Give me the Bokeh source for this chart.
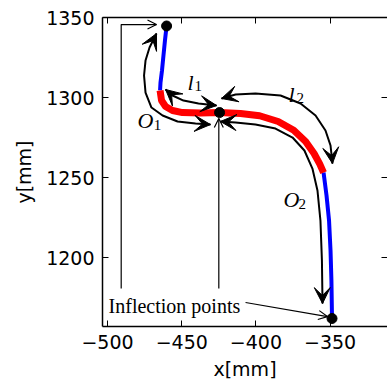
from bokeh.plotting import figure
from bokeh.models import Range1d, LinearAxis, FixedTicker, Arrow, VeeHead, OpenHead, Label
from bokeh.embed import file_html
from bokeh.resources import INLINE

# ---- data (mm) ----
blue1_x = [-460.2, -461.3, -462.3, -463.3, -464.3, -464.6]
blue1_y = [1344.7, 1335.6, 1326.3, 1316.9, 1309.4, 1304.4]
red_x = [-464.6, -463.6, -460.9, -456.2, -449.5, -437.3, -424.5, -410.4, -397.5, -385.0,
         -374.5, -366.5, -360.8, -357.0, -354.4]
red_y = [1304.4, 1298.1, 1294.4, 1291.9, 1290.6, 1290.3, 1290.6, 1290.0, 1288.6, 1285.0,
         1279.5, 1272.5, 1265.0, 1258.5, 1253.1]
blue2_x = [-354.4, -352.4, -350.7, -349.7, -349.1, -348.7]
blue2_y = [1253.1, 1238.8, 1223.1, 1204.4, 1185.6, 1161.9]
points_x = [-460.2, -424.5, -348.7]
points_y = [1344.7, 1290.6, 1161.9]

# annotation arcs (mm)
o1_x = [-430.6, -440.7, -452.8, -462.9, -470.4, -474.4, -475.4, -474.4, -471.7, -467.0]
o1_y = [1283.1, 1283.75, 1285.0, 1288.75, 1293.75, 1303.1, 1313.75, 1323.1, 1331.25, 1340.0]
l1_x = [-460.9, -456.2, -448.8, -438.7, -426.5]
l1_y = [1305.0, 1301.25, 1298.1, 1296.25, 1295.0]
l2_x = [-423.2, -413.7, -400.3, -383.4, -369.9, -359.8, -353.1, -349.7, -348.4]
l2_y = [1299.4, 1301.9, 1302.5, 1301.25, 1296.25, 1288.75, 1279.4, 1270.0, 1258.75]
o2_x = [-423.9, -413.7, -400.3, -386.8, -375.3, -367.3, -361.9, -358.5, -356.5, -355.5, -355.1]
o2_y = [1285.0, 1284.4, 1283.1, 1280.6, 1275.0, 1266.9, 1255.6, 1241.9, 1223.1, 1198.1, 1171.25]

x_ticks = [-500, -450, -400, -350]
y_ticks = [1200, 1250, 1300, 1350]

p = figure(width=387, height=385, output_backend="svg", toolbar_location=None,
           x_range=Range1d(-503.4, -311.3), y_range=Range1d(1156.9, 1350),
           min_border_left=102, min_border_right=0, min_border_top=17, min_border_bottom=59,
           x_axis_label="x[mm]", y_axis_label="y[mm]")
p.outline_line_color = None
p.xgrid.visible = False
p.ygrid.visible = False
p.background_fill_color = "white"

def style_axis(ax, ticks, labels=True):
    ax.ticker = FixedTicker(ticks=ticks)
    ax.major_tick_in = 6
    ax.major_tick_out = 0
    ax.minor_tick_in = 0
    ax.minor_tick_out = 0
    ax.axis_line_width = 1.5
    ax.major_tick_line_width = 1
    ax.major_tick_line_color = "black"
    ax.axis_line_color = "black"
    if labels:
        ax.major_label_text_font = "DejaVu Sans"
        ax.major_label_text_font_size = "19px"
        ax.major_label_text_color = "black"
        ax.major_label_standoff = 8
        ax.major_label_overrides = {t: str(t).replace("-", "\u2212") for t in ticks}
        ax.axis_label_text_font = "DejaVu Sans"
        ax.axis_label_text_font_size = "19px"
        ax.axis_label_text_font_style = "normal"
        ax.axis_label_text_color = "black"
    else:
        ax.major_label_text_font_size = "0px"
        ax.major_label_text_color = None
        ax.major_label_standoff = 0

style_axis(p.xaxis[0], x_ticks)
style_axis(p.yaxis[0], y_ticks)
p.xaxis[0].axis_label_standoff = 6
p.yaxis[0].axis_label_standoff = 8

top = LinearAxis()
style_axis(top, x_ticks, labels=False)
p.add_layout(top, "above")
right = LinearAxis()
style_axis(right, y_ticks, labels=False)
right.axis_line_color = None
p.add_layout(right, "right")

# curve
p.line(blue1_x, blue1_y, line_color="blue", line_width=4)
p.line(blue2_x, blue2_y, line_color="blue", line_width=4)
p.line(red_x, red_y, line_color="red", line_width=7)
p.scatter(points_x, points_y, size=10, color="black")

def head():
    return VeeHead(size=16, fill_color="black", line_color="black", line_width=1)

def curved_arrow(xs, ys):
    p.line(xs, ys, line_color="black", line_width=2)
    p.add_layout(Arrow(end=head(), x_start=xs[-2], y_start=ys[-2], x_end=xs[-1], y_end=ys[-1], line_alpha=0))
    p.add_layout(Arrow(end=head(), x_start=xs[1], y_start=ys[1], x_end=xs[0], y_end=ys[0], line_alpha=0))

curved_arrow(o1_x, o1_y)
curved_arrow(l1_x, l1_y)
curved_arrow(l2_x, l2_y)
curved_arrow(o2_x, o2_y)

# "Inflection points" annotation
def thin_arrow(xs, ys):
    p.line(xs, ys, line_color="black", line_width=1.2)
    p.add_layout(Arrow(end=OpenHead(size=9, line_width=1.2, line_color="black"),
                       x_start=xs[-2], y_start=ys[-2], x_end=xs[-1], y_end=ys[-1], line_alpha=0))

thin_arrow([-490.8, -490.8, -467.0], [1180.6, 1345.6, 1345.6])
thin_arrow([-425.0, -425.0], [1180.6, 1286.9])
thin_arrow([-407.0, -351.8], [1171.9, 1163.1])

p.add_layout(Label(x=-499.3, y=1170.0, text="Inflection points", text_font="Liberation Serif",
                   text_font_size="20px", text_color="black", text_baseline="alphabetic"))

def math_label(x, y, main, sub, xs, ys):
    p.add_layout(Label(x=x, y=y, text=main, text_font="Liberation Serif", text_font_style="italic",
                       text_font_size="22px", text_color="black", text_baseline="alphabetic"))
    p.add_layout(Label(x=xs, y=ys, text=sub, text_font="Liberation Serif",
                       text_font_size="15px", text_color="black", text_baseline="alphabetic"))

math_label(-479.8, 1285.6, "O", "1", -468.8, 1283.1)
math_label(-446.1, 1309.4, "l", "1", -441.4, 1306.9)
math_label(-378.0, 1301.9, "l", "2", -372.6, 1299.4)
math_label(-381.4, 1236.25, "O", "2", -371.3, 1233.75)

open("out.html", "w").write(file_html(p, INLINE))
